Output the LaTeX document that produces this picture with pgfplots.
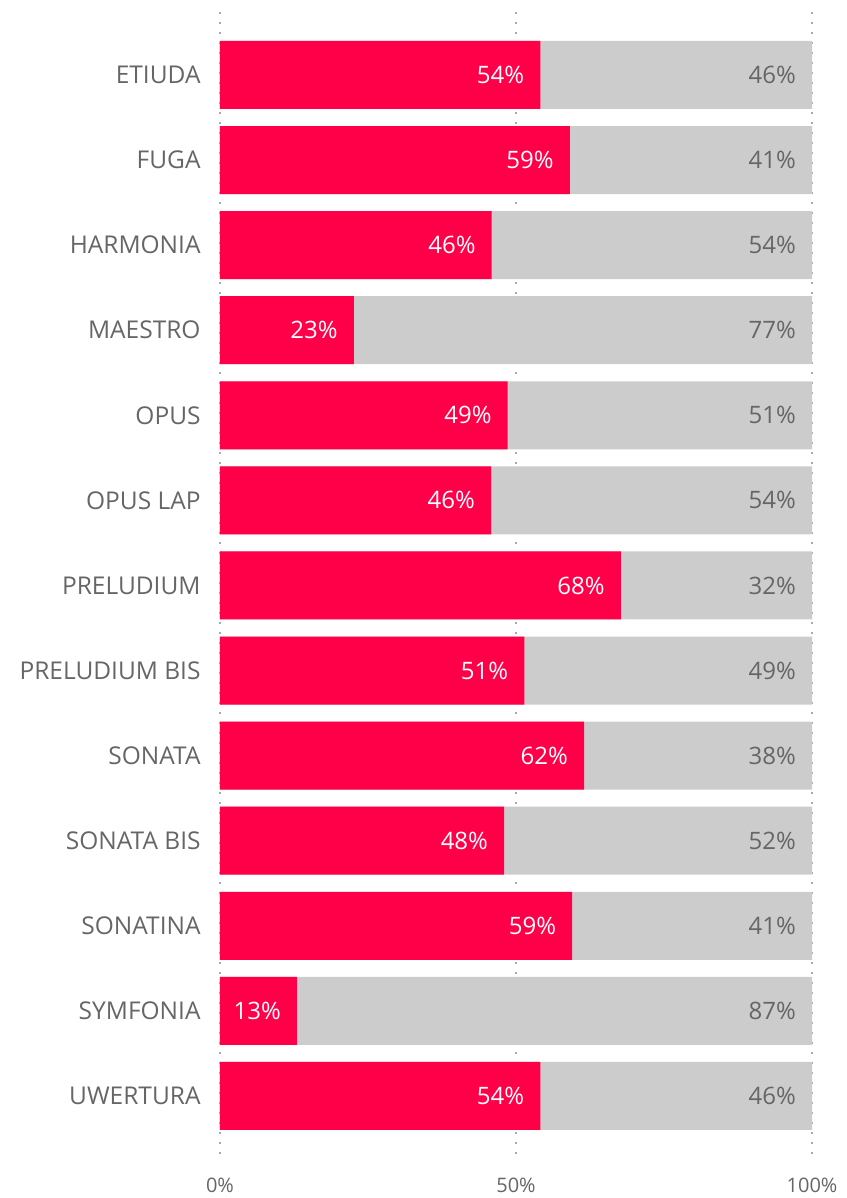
\documentclass[border=0pt]{standalone}
\usepackage{pgfplots}
\pgfplotsset{compat=1.18}
\usepackage{pgfplotstable}
\usepackage{fontspec}
\setmainfont{Open Sans}
\definecolor{barred}{HTML}{FF0048}
\definecolor{bargray}{HTML}{CCCCCC}
\definecolor{txt}{HTML}{666666}
\definecolor{gridc}{HTML}{AAAAAA}
\pgfplotstableread{
idx red gray rl gl
0 54.1 45.9 54 46
1 59.1 40.9 59 41
2 45.9 54.1 46 54
3 22.6 77.4 23 77
4 48.6 51.4 49 51
5 45.8 54.2 46 54
6 67.7 32.3 68 32
7 51.4 48.6 51 49
8 61.5 38.5 62 38
9 48.0 52.0 48 52
10 59.5 40.5 59 41
11 13.0 87.0 13 87
12 54.1 45.9 54 46
}\data
\begin{document}
\begin{tikzpicture}
\begin{axis}[
  at={(0,0)}, anchor=south west,
  scale only axis, width=592pt, height=1143pt,
  xmin=0, xmax=100, ymin=-0.74, ymax=12.694, y dir=reverse,
  xbar, bar width=68pt, bar shift=0pt,
  /pgf/number format/assume math mode=true,
  axis line style={draw=none}, major tick style={draw=none},
  xtick={0,50,100}, xticklabels={0\%,50\%,100\%},
  ytick={0,...,12},
  yticklabels={ETIUDA,FUGA,HARMONIA,MAESTRO,OPUS,OPUS LAP,PRELUDIUM,PRELUDIUM BIS,SONATA,SONATA BIS,SONATINA,SYMFONIA,UWERTURA},
  xmajorgrids, ymajorgrids=false,
  grid style={gridc, line width=1.6pt, dash pattern=on 1.6pt off 8.4pt},
  yticklabel style={font=\fontsize{24.5}{28}\selectfont, text=txt, anchor=east, inner sep=0pt, xshift=-15pt},
  xticklabel style={font=\fontsize{20}{24}\selectfont, text=txt, anchor=north, inner sep=0pt, yshift=-23pt},
  point meta=explicit,
  nodes near coords={\pgfmathprintnumber[fixed,precision=0,assume math mode=true]{\pgfplotspointmeta}\%},
  every node near coord/.append style={font=\fontsize{24}{28}\selectfont, anchor=east, inner sep=0pt, xshift=-16pt},
]
\addplot[fill=bargray, draw=none, every node near coord/.append style={text=txt}] table[x expr=\thisrow{red}+\thisrow{gray}, y=idx, meta=gl] {\data};
\addplot[fill=barred, draw=none, every node near coord/.append style={text=white}] table[x=red, y=idx, meta=rl] {\data};
\end{axis}
\pgfresetboundingbox
\path (-220pt,-43pt) rectangle (626pt,1155pt);
\end{tikzpicture}
\end{document}
